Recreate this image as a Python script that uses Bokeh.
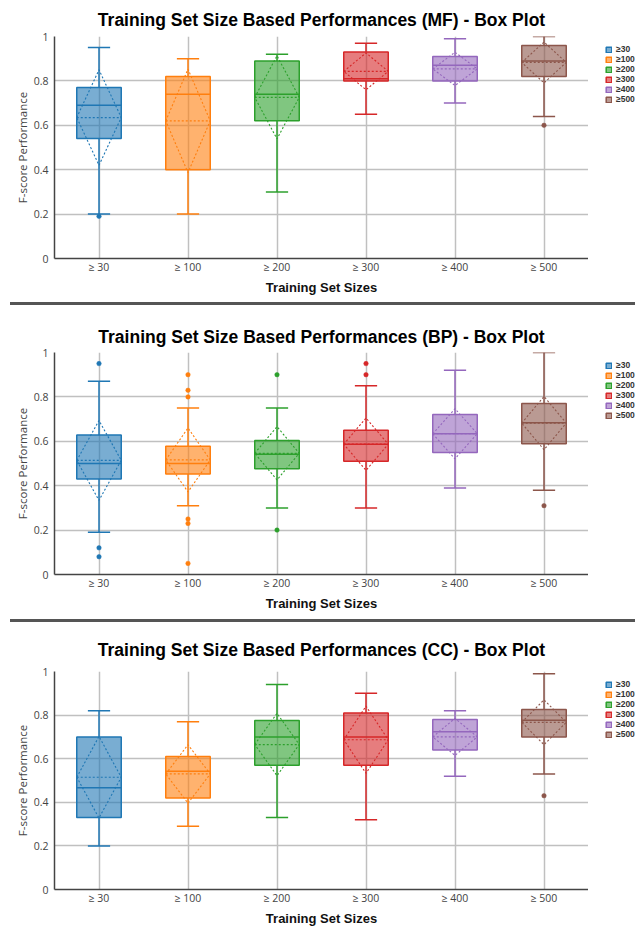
from bokeh.plotting import figure
from bokeh.layouts import column, row
from bokeh.models import (Div, Legend, LegendItem, FixedTicker, NumeralTickFormatter,
                          Range1d)
from bokeh.embed import file_html
from bokeh.resources import INLINE

categories = ["≥ 30", "≥ 100", "≥ 200", "≥ 300", "≥ 400", "≥ 500"]
legend_labels = ["≥30", "≥100", "≥200", "≥300", "≥400", "≥500"]
colors = ["#1f77b4", "#ff7f0e", "#2ca02c", "#d62728", "#9467bd", "#8c564b"]
y_ticks = [0, 0.2, 0.4, 0.6, 0.8, 1]

# ---- MF ----
mf_q1 = [0.54, 0.40, 0.62, 0.80, 0.80, 0.82]
mf_med = [0.69, 0.74, 0.74, 0.81, 0.87, 0.89]
mf_q3 = [0.77, 0.82, 0.89, 0.93, 0.91, 0.96]
mf_lo = [0.20, 0.20, 0.30, 0.65, 0.70, 0.64]
mf_hi = [0.95, 0.90, 0.92, 0.97, 0.99, 1.00]
mf_mean = [0.635, 0.62, 0.726, 0.843, 0.854, 0.883]
mf_sd = [0.215, 0.233, 0.187, 0.083, 0.075, 0.092]
mf_out = [[0.19], [], [], [], [], [0.60]]

# ---- BP ----
bp_q1 = [0.43, 0.453, 0.476, 0.51, 0.55, 0.589]
bp_med = [0.50, 0.50, 0.542, 0.587, 0.634, 0.684]
bp_q3 = [0.628, 0.578, 0.604, 0.65, 0.721, 0.77]
bp_lo = [0.19, 0.31, 0.30, 0.30, 0.39, 0.38]
bp_hi = [0.87, 0.75, 0.75, 0.85, 0.92, 1.00]
bp_mean = [0.514, 0.516, 0.546, 0.587, 0.634, 0.682]
bp_sd = [0.18, 0.144, 0.12, 0.118, 0.113, 0.12]
bp_out = [[0.95, 0.12, 0.08], [0.90, 0.83, 0.80, 0.25, 0.23, 0.05], [0.90, 0.20],
          [0.95, 0.90], [], [0.31]]

# ---- CC ----
cc_q1 = [0.33, 0.42, 0.57, 0.57, 0.64, 0.70]
cc_med = [0.467, 0.542, 0.70, 0.70, 0.724, 0.776]
cc_q3 = [0.70, 0.61, 0.775, 0.81, 0.78, 0.826]
cc_lo = [0.20, 0.29, 0.33, 0.32, 0.52, 0.53]
cc_hi = [0.82, 0.77, 0.94, 0.90, 0.82, 0.99]
cc_mean = [0.515, 0.53, 0.665, 0.687, 0.70, 0.767]
cc_sd = [0.187, 0.134, 0.143, 0.154, 0.085, 0.103]
cc_out = [[], [], [], [], [], [0.43]]

BOX_W = 0.5
CAP_W = 0.25
LEFT = 54
FRAME_W = 534
LEG_W = 635 - LEFT - FRAME_W


def make_panel(name, q1, med, q3, lo, hi, mean, sd, outl, top, frame_h, bottom, standoff):
    H = top + frame_h + bottom
    p = figure(width=LEFT + FRAME_W, height=H, output_backend="svg",
               toolbar_location=None,
               x_range=Range1d(-0.5, 5.5), y_range=Range1d(0, 1),
               min_border_left=LEFT, min_border_right=0,
               min_border_top=top, min_border_bottom=bottom,
               title=f"Training Set Size Based Performances ({name}) - Box Plot")
    p.outline_line_color = None
    p.background_fill_color = "white"
    p.border_fill_color = "white"
    p.title.align = "center"
    p.title.text_font = "Liberation Sans"
    p.title.text_font_style = "bold"
    p.title.text_font_size = "17.5px"
    p.title.text_color = "#000000"
    p.title.standoff = standoff

    xs = list(range(len(categories)))

    # grids
    p.xgrid.ticker = FixedTicker(ticks=xs)
    p.ygrid.ticker = FixedTicker(ticks=y_ticks)
    for g in (p.xgrid, p.ygrid):
        g.grid_line_color = "#c0c0c0"
        g.grid_line_width = 1.5

    # axes
    p.xaxis.ticker = FixedTicker(ticks=xs)
    p.xaxis.major_label_overrides = {i: c for i, c in enumerate(categories)}
    p.yaxis.ticker = FixedTicker(ticks=y_ticks)
    p.yaxis.formatter = NumeralTickFormatter(format="0.[0]")
    for ax in (p.xaxis, p.yaxis):
        ax.axis_line_color = "#444444"
        ax.axis_line_width = 1.5
        ax.major_tick_line_color = None
        ax.minor_tick_line_color = None
        ax.major_tick_out = 0
        ax.major_tick_in = 0
        ax.major_label_text_font = "Open Sans"
        ax.major_label_text_font_size = "10.5px"
        ax.major_label_text_color = "#444444"
    p.xaxis.major_label_standoff = 1
    p.yaxis.major_label_standoff = 6
    p.xaxis.axis_label = "Training Set Sizes"
    p.xaxis.axis_label_text_font = "Liberation Sans"
    p.xaxis.axis_label_text_font_style = "bold"
    p.xaxis.axis_label_text_font_size = "13px"
    p.xaxis.axis_label_text_color = "#111111"
    p.xaxis.axis_label_standoff = 3
    p.yaxis.axis_label = "F-score Performance"
    p.yaxis.axis_label_text_font = "Open Sans"
    p.yaxis.axis_label_text_font_style = "normal"
    p.yaxis.axis_label_text_font_size = "11.5px"
    p.yaxis.axis_label_text_color = "#444444"
    p.yaxis.axis_label_standoff = 1

    # boxes
    p.vbar(x=xs, width=BOX_W, top=q3, bottom=q1, fill_color=colors, fill_alpha=0.6,
           line_color=colors, line_width=1.5)
    left = [x - BOX_W / 2 for x in xs]
    right = [x + BOX_W / 2 for x in xs]
    # median
    p.segment(x0=left, x1=right, y0=med, y1=med, line_color=colors, line_width=1.5)
    # mean
    p.segment(x0=left, x1=right, y0=mean, y1=mean, line_color=colors, line_width=1.2,
              line_dash="2 2")
    # sd diamond
    dxs = [[x - BOX_W / 2, x, x + BOX_W / 2, x, x - BOX_W / 2] for x in xs]
    dys = [[m, m + s, m, m - s, m] for m, s in zip(mean, sd)]
    p.multi_line(xs=dxs, ys=dys, line_color=colors, line_width=1.1, line_dash="2 2")
    # whiskers
    p.segment(x0=xs, x1=xs, y0=lo, y1=q1, line_color=colors, line_width=1.5)
    p.segment(x0=xs, x1=xs, y0=q3, y1=hi, line_color=colors, line_width=1.5)
    cl = [x - CAP_W / 2 for x in xs]
    cr = [x + CAP_W / 2 for x in xs]
    p.segment(x0=cl, x1=cr, y0=lo, y1=lo, line_color=colors, line_width=1.5)
    p.segment(x0=cl, x1=cr, y0=hi, y1=hi, line_color=colors, line_width=1.5)
    # outliers
    ox, oy, oc = [], [], []
    for i, vals in enumerate(outl):
        for v in vals:
            ox.append(xs[i])
            oy.append(v)
            oc.append(colors[i])
    if ox:
        p.scatter(x=ox, y=oy, size=4.5, fill_color=oc, line_color=oc, line_width=0.5)

    # legend in a narrow companion figure on the right
    lg = figure(width=LEG_W, height=H, output_backend="svg", toolbar_location=None,
                x_range=Range1d(-0.5, 5.5), y_range=Range1d(0, 1),
                x_axis_location=None, y_axis_location=None,
                min_border_left=0, min_border_right=0,
                min_border_top=top, min_border_bottom=bottom)
    lg.outline_line_color = None
    lg.xgrid.visible = False
    lg.ygrid.visible = False
    lg.border_fill_color = "white"
    lg.background_fill_color = "white"
    items = []
    for i, (lab, col) in enumerate(zip(legend_labels, colors)):
        # zero-size key bar (nothing visible in the plot); it only feeds the legend swatch
        key = lg.vbar(x=[xs[i]], top=[q1[i]], bottom=[q1[i]], width=0,
                      fill_color=col, fill_alpha=0.6, line_color=col, line_width=1.5)
        items.append(LegendItem(label=lab, renderers=[key]))
    legend = Legend(items=items, location="top_right")
    legend.title = " "
    legend.title_text_font_size = "6px"
    legend.title_standoff = 2
    legend.label_text_font = "Liberation Sans"
    legend.label_text_font_style = "bold"
    legend.label_text_font_size = "8.5px"
    legend.label_text_color = "#333333"
    legend.glyph_width = 7
    legend.glyph_height = 7
    legend.label_height = 10
    legend.label_width = 19
    legend.label_standoff = 4
    legend.spacing = 0
    legend.padding = 0
    legend.margin = 0
    legend.border_line_color = None
    legend.background_fill_color = "white"
    legend.background_fill_alpha = 1
    lg.add_layout(legend)
    return row(p, lg, spacing=0)


def separator():
    return Div(text="", width=625, height=3, margin=(0, 0, 0, 10),
               styles={"background-color": "#555555"})


p1 = make_panel("MF", mf_q1, mf_med, mf_q3, mf_lo, mf_hi, mf_mean, mf_sd, mf_out,
                top=36, frame_h=222, bottom=44, standoff=13)
p2 = make_panel("BP", bp_q1, bp_med, bp_q3, bp_lo, bp_hi, bp_mean, bp_sd, bp_out,
                top=47, frame_h=222, bottom=45, standoff=12)
p3 = make_panel("CC", cc_q1, cc_med, cc_q3, cc_lo, cc_hi, cc_mean, cc_sd, cc_out,
                top=49, frame_h=221, bottom=36, standoff=24)

layout = column(p1, separator(), p2, separator(), p3, spacing=0)

with open("out.html", "w") as f:
    f.write(file_html(layout, INLINE))
